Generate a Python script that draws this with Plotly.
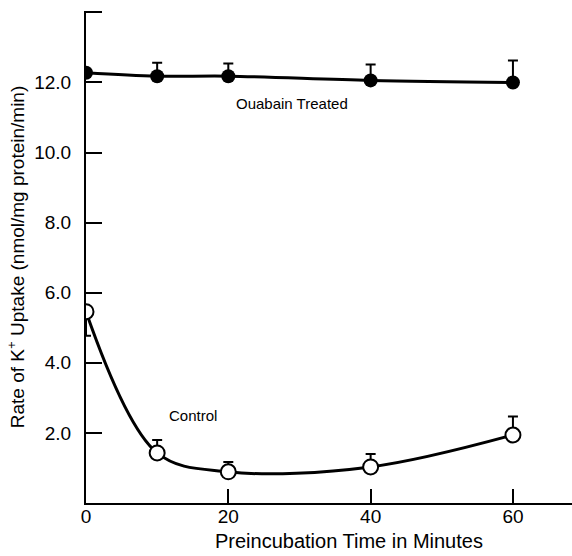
import plotly.graph_objects as go

# Data
time_min = [0, 10, 20, 40, 60]
ouabain_rate = [12.28, 12.18, 12.18, 12.06, 12.0]
ouabain_err_up = [0.0, 0.38, 0.36, 0.45, 0.63]
control_rate = [5.46, 1.43, 0.89, 1.03, 1.94]
control_err_up = [0.0, 0.37, 0.28, 0.37, 0.53]
control_err_down = [0.69, 0.0, 0.0, 0.0, 0.0]

y_tickvals = [2, 4, 6, 8, 10, 12]
y_ticktext = ["2.0", "4.0", "6.0", "8.0", "10.0", "12.0"]
y_top_tick = [14]
x_tickvals = [0, 20, 40, 60]
x_ticktext = ["0", "20", "40", "60"]

FONT = "Liberation Sans, Arial, Helvetica, sans-serif"

fig = go.Figure()

fig.add_trace(go.Scatter(
    x=time_min, y=ouabain_rate, mode="lines+markers",
    line=dict(color="black", width=3, shape="spline"),
    marker=dict(symbol="circle", size=14, color="black"),
    error_y=dict(type="data", symmetric=False, array=ouabain_err_up,
                 arrayminus=[0] * len(time_min), color="black",
                 thickness=2, width=5),
    showlegend=False,
))

fig.add_trace(go.Scatter(
    x=time_min, y=control_rate, mode="lines+markers",
    line=dict(color="black", width=3, shape="spline", smoothing=1.0),
    marker=dict(symbol="circle", size=15, color="white",
                line=dict(color="black", width=2)),
    error_y=dict(type="data", symmetric=False, array=control_err_up,
                 arrayminus=control_err_down, color="black",
                 thickness=2, width=5),
    showlegend=False,
))

fig.add_annotation(x=28.9, y=11.4, xref="x", yref="y", text="Ouabain Treated",
                   showarrow=False, font=dict(family=FONT, size=15, color="black"))
fig.add_annotation(x=15.0, y=2.5, xref="x", yref="y", text="Control",
                   showarrow=False, font=dict(family=FONT, size=15, color="black"))
fig.add_annotation(x=(349 - 86) / 486, y=-38 / 491, xref="paper", yref="paper",
                   text="Preincubation Time in Minutes", showarrow=False,
                   xanchor="center", yanchor="middle",
                   font=dict(family=FONT, size=20, color="black"))

fig.update_layout(
    width=572, height=556,
    margin=dict(l=86, r=0, t=11, b=53, pad=0),
    paper_bgcolor="white", plot_bgcolor="white",
    font=dict(family=FONT, color="black"),
    xaxis=dict(
        range=[0, 68.3], tickvals=x_tickvals, ticktext=x_ticktext,
        ticks="inside", ticklen=14, tickwidth=2, tickcolor="black",
        showline=True, linecolor="black", linewidth=2,
        showgrid=False, zeroline=False, ticklabelstandoff=-5,
        tickfont=dict(family=FONT, size=19, color="black"),
    ),
    yaxis=dict(
        range=[0, 14.04], tickvals=y_tickvals, ticktext=y_ticktext,
        ticks="inside", ticklen=16, tickwidth=2, tickcolor="black",
        showline=True, linecolor="black", linewidth=2,
        showgrid=False, zeroline=False, ticklabelstandoff=9,
        tickfont=dict(family=FONT, size=19, color="black"),
        minor=dict(tickvals=y_top_tick, ticks="inside", ticklen=16,
                   tickwidth=2, tickcolor="black", showgrid=False),
        title=dict(text="Rate of K<sup>+</sup> Uptake (nmol/mg protein/min)",
                   font=dict(family=FONT, size=19, color="black"), standoff=5),
    ),
)

fig.write_html("out.html")
